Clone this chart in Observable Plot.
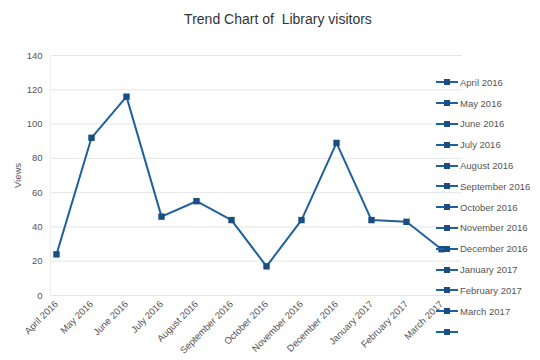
<!DOCTYPE html>
<html>
<head>
<meta charset="utf-8">
<script src="https://cdn.jsdelivr.net/npm/d3@7"></script>
<script src="https://cdn.jsdelivr.net/npm/@observablehq/plot@0.6"></script>
<style>
  html, body { margin: 0; padding: 0; background: #fff; }
  #wrap { position: relative; width: 540px; height: 360px; font-family: "Liberation Sans", Arial, sans-serif; }
  #title { position: absolute; left: 8px; top: 11px; width: 540px; text-align: center; font-size: 14px; line-height: 16px; color: #333; white-space: pre; }
  #legend { position: absolute; left: 435px; top: 72px; }
  .li { display: flex; align-items: center; height: 20.8px; font-size: 9.5px; color: #555; white-space: nowrap; }
  .li svg { margin-right: 1px; }
</style>
</head>
<body>
<div id="wrap">
  <div id="title"></div>
  <div id="legend"></div>
</div>
<script>
const title = "Trend Chart of  Library visitors";
const yLabel = "Views";
const months = ["April 2016","May 2016","June 2016","July 2016","August 2016","September 2016","October 2016","November 2016","December 2016","January 2017","February 2017","March 2017"];
const views = [24, 92, 116, 46, 55, 44, 17, 44, 89, 44, 43, 27];
const legendLabels = [...months, ""];
const yTicks = [0, 20, 40, 60, 80, 100, 120, 140];

const lineColor = "#20609e";
const markColor = "#1a4d80";

const data = months.map((m, i) => ({month: m, value: views[i]}));

const plot = Plot.plot({
  width: 540,
  height: 360,
  marginLeft: 50,
  marginRight: 78,
  marginTop: 55,
  marginBottom: 65,
  style: {fontFamily: "Liberation Sans, Arial, sans-serif", background: "transparent"},
  x: {type: "point", domain: months, range: [53, 444], padding: 0},
  y: {domain: [0, 140]},
  marks: [
    Plot.gridY(yTicks, {stroke: "#e6e6e6", strokeOpacity: 1}),
    Plot.frame({anchor: "left", stroke: "#eeeeee"}),
    Plot.axisY(yTicks, {tickSize: 0, tickPadding: 8, fontSize: 9.5, fill: "#555", label: yLabel, labelAnchor: "center", labelArrow: "none", labelOffset: 36}),
    Plot.axisX({tickSize: 0, tickPadding: 7, tickRotate: -45, fontSize: 9.5, fill: "#555", label: null}),
    Plot.line(data, {x: "month", y: "value", stroke: lineColor, strokeWidth: 2}),
    Plot.dot(data, {x: "month", y: "value", symbol: "square", r: 3.6, fill: markColor, stroke: "none"})
  ]
});
plot.style.position = "absolute";
plot.style.left = "0";
plot.style.top = "0";
document.getElementById("wrap").prepend(plot);
document.getElementById("title").textContent = title;

const lg = document.getElementById("legend");
for (const lab of legendLabels) {
  const d = document.createElement("div");
  d.className = "li";
  d.innerHTML = `<svg width="24" height="8"><line x1="1" y1="4" x2="23" y2="4" stroke="${lineColor}" stroke-width="2"/><rect x="9" y="1" width="6" height="6" fill="${markColor}"/></svg><span></span>`;
  d.querySelector("span").textContent = lab;
  lg.appendChild(d);
}
</script>
</body>
</html>
